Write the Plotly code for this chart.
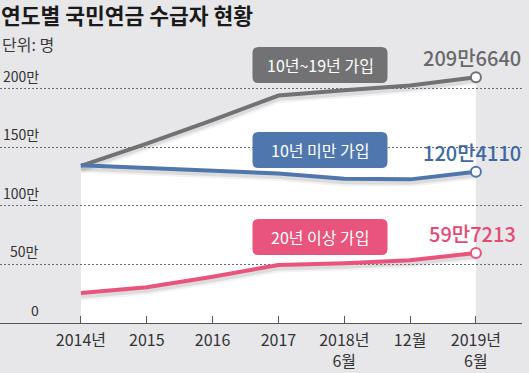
import plotly.graph_objects as go

# ---- data ----
x_idx = [0, 1, 2, 3, 4, 5, 6]
x_labels = ["2014년", "2015", "2016", "2017", "2018년<br>6월", "12월", "2019년<br>6월"]
s_mid = [134, 153, 173, 194, 198.5, 202.5, 209.664]      # 10년~19년 가입 (만 명)
s_short = [134.5, 132, 129.8, 127.5, 123, 122.5, 129]    # 10년 미만 가입
s_long = [25.5, 30.5, 39.5, 49.5, 51, 53.5, 59.7213]     # 20년 이상 가입
y_ticks = [0, 50, 100, 150, 200]
y_tick_labels = ["0", "50만", "100만", "150만", "200만"]
names = ["10년~19년 가입", "10년 미만 가입", "20년 이상 가입"]
end_labels = ["209만6640", "120만4110", "59만7213"]

# ---- style ----
FONT = "Noto Sans CJK KR"
BG = "#e7e7e9"
C_GREY = "#727274"
C_BLUE = "#5077ad"
C_PINK = "#e9547c"
T_GREY = "#68686a"
T_BLUE = "#3f67a0"
T_PINK = "#e34b74"

W, H = 529, 373
ML, MR, MT, MB = 0, 7, 30, 50
PW = W - ML - MR
PH = H - MT - MB
AXIS_Y = H - MB          # pixel row of the value-0 axis
pxu = 1.1725             # pixels per 만
XR = [-1.23, 6.70]
YR = [0, PH / pxu]
shadow_shift = 3 / pxu


def py(pixel_row):
    """pixel row -> data value on y3"""
    return (AXIS_Y - pixel_row) / pxu


def pp(pixel_row):
    """pixel row -> paper fraction"""
    return (AXIS_Y - pixel_row) / PH


fig = go.Figure()

# layer 1: white area under the top series
fig.add_trace(go.Scatter(x=x_idx, y=s_mid, mode="lines", fill="tozeroy",
                         fillcolor="white", line=dict(width=0, color="white"),
                         xaxis="x", yaxis="y", hoverinfo="skip", showlegend=False))

# layer 2: soft shadows (same data, shifted axis)
for s in (s_mid, s_short, s_long):
    fig.add_trace(go.Scatter(x=x_idx, y=s, mode="lines",
                             line=dict(width=9, color="rgba(0,0,0,0.05)"),
                             xaxis="x2", yaxis="y2", hoverinfo="skip", showlegend=False))
    fig.add_trace(go.Scatter(x=x_idx, y=s, mode="lines",
                             line=dict(width=5, color="rgba(0,0,0,0.09)"),
                             xaxis="x2", yaxis="y2", hoverinfo="skip", showlegend=False))

# layer 3: grid + lines
for s, c in ((s_mid, C_GREY), (s_short, C_BLUE), (s_long, C_PINK)):
    fig.add_trace(go.Scatter(x=x_idx, y=s, mode="lines",
                             line=dict(width=4, color=c),
                             xaxis="x3", yaxis="y3", showlegend=False))
    fig.add_trace(go.Scatter(x=[x_idx[-1]], y=[s[-1]], mode="markers",
                             marker=dict(size=10, color="white", line=dict(width=2, color=c)),
                             xaxis="x3", yaxis="y3", showlegend=False))

hidden = dict(showgrid=False, zeroline=False, showticklabels=False, ticks="",
              showline=False, domain=[0, 1], automargin=False)

fig.update_layout(
    width=W, height=H,
    margin=dict(l=ML, r=MR, t=MT, b=MB, autoexpand=False),
    paper_bgcolor=BG, plot_bgcolor="rgba(0,0,0,0)",
    font=dict(family=FONT, color="#333"),
    xaxis=dict(range=XR, domain=[0, 1], anchor="free", position=0.0, automargin=False,
               showgrid=False, zeroline=False, showline=False, ticks="",
               ticklabelstandoff=6,
               tickmode="array", tickvals=x_idx, ticktext=x_labels,
               tickfont=dict(size=16, color="#333", family=FONT)),
    yaxis=dict(range=YR, **hidden),
    xaxis2=dict(range=XR, anchor="y2", **hidden),
    yaxis2=dict(range=[YR[0] + shadow_shift, YR[1] + shadow_shift], anchor="x2", **hidden),
    xaxis3=dict(range=XR, anchor="y3", domain=[0, 1], showgrid=False, zeroline=False,
                tickmode="array", tickvals=x_idx, showticklabels=False,
                ticks="inside", ticklen=7, tickcolor="#555", tickwidth=1,
                showline=True, linecolor="#555", linewidth=1, automargin=False),
    yaxis3=dict(range=YR, anchor="x3", domain=[0, 1], showgrid=True,
                gridcolor="#6a6a6a", griddash="2px,2px", gridwidth=1,
                tickmode="array", tickvals=y_ticks[1:], showticklabels=False,
                zeroline=False, ticks="", automargin=False),
)

ann = []
# y tick labels
for v, t in zip(y_ticks, y_tick_labels):
    ann.append(dict(xref="paper", yref="y3", x=41 / PW, y=v, xanchor="right",
                    yanchor="bottom", yshift=1, text=t, showarrow=False,
                    font=dict(size=14, color="#333", family=FONT)))

# title and unit
ann.append(dict(xref="paper", yref="paper", x=0, y=pp(15),
                xanchor="left", yanchor="middle", text="<b>연도별 국민연금 수급자 현황</b>",
                showarrow=False, borderpad=0,
                font=dict(size=21.5, color="#1a1a1a", family=FONT)))
ann.append(dict(xref="paper", yref="paper", x=0, y=pp(44),
                xanchor="left", yanchor="middle", text="단위: 명",
                showarrow=False, font=dict(size=16, color="#3a3a3a", family=FONT)))

# label boxes
box_fill = [C_GREY, C_BLUE, C_PINK]
box_y = [py(65), py(150), py(237)]
bw, bh, r = 135, 36, 6
hw, hh = bw / 2, bh / 2
path = (f"M {-hw + r},{-hh} L {hw - r},{-hh} Q {hw},{-hh} {hw},{-hh + r} "
        f"L {hw},{hh - r} Q {hw},{hh} {hw - r},{hh} L {-hw + r},{hh} "
        f"Q {-hw},{hh} {-hw},{hh - r} L {-hw},{-hh + r} Q {-hw},{-hh} {-hw + r},{-hh} Z")
shapes = []
box_cx = 320 / PW
for nm, fc, yy in zip(names, box_fill, box_y):
    shapes.append(dict(type="path", xref="paper", yref="y3", xsizemode="pixel",
                       ysizemode="pixel", xanchor=box_cx, yanchor=yy, path=path,
                       fillcolor=fc, line=dict(width=0), layer="above"))
    ann.append(dict(xref="paper", yref="y3", x=box_cx, y=yy, xanchor="center",
                    yanchor="middle", text=nm, showarrow=False,
                    font=dict(size=16, color="white", family=FONT)))

# end value labels
val_y = [py(57), py(152), py(233)]
val_c = [T_GREY, T_BLUE, T_PINK]
for t, yy, c in zip(end_labels, val_y, val_c):
    ann.append(dict(xref="paper", yref="y3", x=472 / PW, y=yy, xanchor="center",
                    yanchor="middle", text=t, showarrow=False,
                    font=dict(size=20, color=c, family=FONT, weight=500)))

fig.update_layout(annotations=ann, shapes=shapes)
fig.write_html("out.html", config={"displayModeBar": False},
               post_script="document.body.style.margin='0';document.body.style.padding='0';")
